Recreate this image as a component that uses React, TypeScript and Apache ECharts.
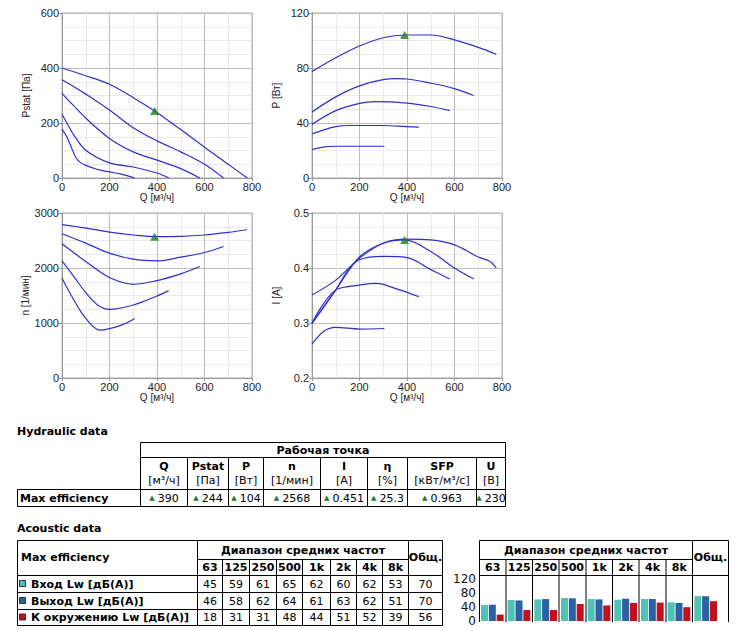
import React, { useEffect, useRef } from 'react';
import * as echarts from 'echarts';

// ---------------- Data ----------------
const pstatQ = [
  [0, 100, 200, 300, 390, 500, 600, 700, 780],
  [0, 50, 100, 200, 300, 400, 500, 600, 680],
  [0, 50, 100, 200, 300, 400, 500, 580],
  [0, 25, 50, 100, 200, 300, 400, 450],
  [0, 20, 40, 60, 80, 100, 150, 200, 250, 305],
];
const pstatVals = [
  [400, 372, 341, 292, 244, 176, 112, 50, 0],
  [357, 332, 305, 247, 183, 135, 95, 50, 0],
  [308, 262, 218, 144, 95, 65, 34, 0],
  [232, 193, 156, 101, 55, 40, 18, 0],
  [178, 150, 110, 72, 55, 46, 31, 22, 14, 0],
];

const powerQ = [
  [0, 100, 200, 300, 390, 500, 600, 700, 776],
  [0, 100, 200, 300, 350, 400, 500, 600, 680],
  [0, 100, 200, 270, 400, 500, 580],
  [0, 50, 100, 150, 300, 400, 450],
  [0, 50, 100, 200, 305],
];
const powerVals = [
  [77.5, 87.5, 96, 102, 104, 104, 100.5, 95, 90],
  [48, 59, 67, 71.5, 72.3, 72, 69, 65, 60],
  [39, 49, 54.3, 55.5, 54.5, 52, 49],
  [32, 35, 37.3, 38.2, 38.2, 37.3, 37],
  [20.7, 22.6, 23.1, 23.1, 23.1],
];

const speedQ = [
  [0, 100, 200, 300, 390, 500, 600, 700, 779],
  [0, 100, 200, 300, 400, 500, 600, 680],
  [0, 100, 200, 300, 400, 500, 580],
  [0, 50, 100, 150, 200, 300, 400, 449],
  [0, 50, 100, 160, 250, 306],
];
const speedVals = [
  [2787, 2726, 2653, 2600, 2570, 2575, 2600, 2647, 2696],
  [2623, 2452, 2270, 2160, 2130, 2197, 2282, 2391],
  [2440, 2118, 1826, 1704, 1771, 1892, 2026],
  [2130, 1844, 1552, 1327, 1247, 1327, 1491, 1588],
  [1813, 1418, 1083, 870, 961, 1083],
];

const currentQ = [
  [0, 100, 200, 300, 400, 500, 600, 700, 750, 776],
  [0, 100, 200, 300, 390, 500, 600, 681],
  [0, 100, 150, 200, 300, 400, 500, 580],
  [0, 50, 100, 150, 200, 270, 350, 449],
  [0, 50, 100, 200, 305],
];
const currentVals = [
  [0.351, 0.378, 0.418, 0.445, 0.4525, 0.451, 0.442, 0.42, 0.412, 0.4],
  [0.3, 0.36, 0.42, 0.445, 0.451, 0.43, 0.4, 0.38],
  [0.299, 0.36, 0.395, 0.415, 0.421, 0.419, 0.397, 0.38],
  [0.3, 0.336, 0.36, 0.366, 0.369, 0.372, 0.363, 0.348],
  [0.2615, 0.285, 0.292, 0.289, 0.29],
];

const opQ = 390;
const opPstat = 244;
const opPower = 104;
const opSpeed = 2568;
const opCurrent = 0.451;

const hydHeaders = ['Q', 'Pstat', 'P', 'n', 'I', 'η', 'SFP', 'U'];
const hydUnits = ['[м³/ч]', '[Па]', '[Вт]', '[1/мин]', '[А]', '[%]', '[кВт/м³/с]', '[В]'];
const hydValues = ['390', '244', '104', '2568', '0.451', '25.3', '0.963', '230'];

const freqLabels = ['63', '125', '250', '500', '1k', '2k', '4k', '8k'];
const totalLabel = 'Общ.';
const rowLabels = ['Вход Lw [дБ(А)]', 'Выход Lw [дБ(А)]', 'К окружению Lw [дБ(А)]'];
const inletLw = [45, 59, 61, 65, 62, 60, 62, 53];
const outletLw = [46, 58, 62, 64, 61, 63, 62, 51];
const ambientLw = [18, 31, 31, 48, 44, 51, 52, 39];
const inletTotal = 70;
const outletTotal = 70;
const ambientTotal = 56;

// ---------------- Styling ----------------
const AF = 'Liberation Sans, Arial, sans-serif';
const TF = 'DejaVu Sans, Verdana, sans-serif';
const CURVE = '#2f2fc8';
const MARK = '#1c7c1c';
const rowColors = ['#52c2b6', '#2b62a6', '#c0111c'];

const plotGrids = [
  { left: 62, top: 13, width: 190, height: 165 },
  { left: 312, top: 13, width: 190, height: 165 },
  { left: 62, top: 213, width: 190, height: 165 },
  { left: 312, top: 213, width: 190, height: 165 },
];
const yNames = ['Pstat [Па]', 'P [Вт]', 'n [1/мин]', 'I [A]'];
const yRanges = [
  { min: 0, max: 600, interval: 200 },
  { min: 0, max: 120, interval: 40 },
  { min: 0, max: 3000, interval: 1000 },
  { min: 0.2, max: 0.5, interval: 0.1 },
];
const curveSets = [
  [pstatQ, pstatVals],
  [powerQ, powerVals],
  [speedQ, speedVals],
  [currentQ, currentVals],
];
const opValues = [opPstat, opPower, opSpeed, opCurrent];

const ln = (x1: number, y1: number, x2: number, y2: number) => ({
  type: 'line',
  silent: true,
  shape: { x1, y1, x2, y2 },
  style: { stroke: '#000', lineWidth: 1 },
});
const tx = (x: number, y: number, t: string, bold = false, align = 'center', size = 11) => ({
  type: 'text',
  silent: true,
  x,
  y,
  style: {
    text: t,
    fill: '#000',
    fontFamily: TF,
    fontSize: size,
    fontWeight: bold ? 'bold' : 'normal',
    align,
    verticalAlign: 'middle',
  },
});

function buildGraphics() {
  const g: any[] = [];
  // ---- Hydraulic table ----
  g.push(tx(17, 431, 'Hydraulic data', true, 'left'));
  const HX = [140.5, 187.5, 228.5, 263.5, 320.5, 367.5, 407.5, 476.5, 505.5];
  const R = HX[HX.length - 1];
  g.push(ln(140.5, 442.5, R, 442.5));
  g.push(ln(140.5, 457.5, R, 457.5));
  g.push(ln(17.5, 489.5, R, 489.5));
  g.push(ln(17.5, 506.5, R, 506.5));
  g.push(ln(17.5, 489.5, 17.5, 506.5));
  g.push(ln(140.5, 442.5, 140.5, 506.5));
  g.push(ln(R, 442.5, R, 506.5));
  for (let i = 1; i < HX.length - 1; i++) g.push(ln(HX[i], 457.5, HX[i], 506.5));
  g.push(tx((140.5 + R) / 2, 450, 'Рабочая точка', true));
  hydHeaders.forEach((h, i) => {
    const cx = (HX[i] + HX[i + 1]) / 2;
    g.push(tx(cx, 466, h, true));
    g.push(tx(cx, 480, hydUnits[i]));
    g.push({
      type: 'text',
      silent: true,
      x: cx,
      y: 498,
      style: {
        text: `{t|▲}{v|${hydValues[i]}}`,
        align: 'center',
        verticalAlign: 'middle',
        rich: {
          t: { fontSize: 7, fill: MARK, fontFamily: TF, padding: [0, 3, 0, 0] },
          v: { fontSize: 11, fill: '#000', fontFamily: TF },
        },
      },
    });
  });
  g.push(tx(20, 498, 'Max efficiency', true, 'left'));

  // ---- Acoustic table ----
  g.push(tx(17, 528.5, 'Acoustic data', true, 'left'));
  const AX = [197.5, 222.5, 249.5, 276.5, 302.5, 330.5, 356.5, 382.5, 408.5];
  const AL = 17.5;
  const AR = 442.5;
  const AY = [575.5, 592.5, 609.5, 625.5];
  g.push(ln(AL, 540.5, AR, 540.5));
  g.push(ln(AX[0], 559.5, AX[8], 559.5));
  AY.forEach((y) => g.push(ln(AL, y, AR, y)));
  [AL, AX[0], AX[8], AR].forEach((x) => g.push(ln(x, 540.5, x, 625.5)));
  for (let i = 1; i < 8; i++) g.push(ln(AX[i], 559.5, AX[i], 625.5));
  g.push(tx(21, 557.5, 'Max efficiency', true, 'left'));
  g.push(tx((AX[0] + AX[8]) / 2, 550, 'Диапазон средних частот', true));
  g.push(tx((AX[8] + AR) / 2, 557, totalLabel, true));
  freqLabels.forEach((f, i) => g.push(tx((AX[i] + AX[i + 1]) / 2, 567.5, f, true)));
  const rows = [
    [inletLw, inletTotal],
    [outletLw, outletTotal],
    [ambientLw, ambientTotal],
  ] as const;
  rows.forEach(([vals, tot], r) => {
    const cy = (AY[r] + AY[r + 1]) / 2;
    g.push({
      type: 'rect',
      silent: true,
      shape: { x: 19.5, y: cy - 3.5, width: 6, height: 6 },
      style: { fill: rowColors[r], stroke: '#333', lineWidth: 1 },
    });
    g.push(tx(31, cy, rowLabels[r], true, 'left'));
    (vals as number[]).forEach((v, i) => g.push(tx((AX[i] + AX[i + 1]) / 2, cy, String(v))));
    g.push(tx((AX[8] + AR) / 2, cy, String(tot)));
  });

  // ---- Bar chart table ----
  const BX = [479.5, 506, 532.5, 559, 586, 612.5, 639, 666, 692.5];
  const BR = 728.5;
  g.push(ln(BX[0], 540.5, BR, 540.5));
  g.push(ln(BX[0], 559.5, BX[8], 559.5));
  g.push(ln(BX[0], 575.5, BR, 575.5));
  [BX[0], BX[8], BR].forEach((x) => g.push(ln(x, 540.5, x, 622)));
  for (let i = 1; i < 8; i++) g.push(ln(BX[i], 559.5, BX[i], 622));
  g.push(tx((BX[0] + BX[8]) / 2, 550, 'Диапазон средних частот', true));
  g.push(tx((BX[8] + BR) / 2, 557, totalLabel, true));
  freqLabels.forEach((f, i) => g.push(tx((BX[i] + BX[i + 1]) / 2, 567.5, f, true)));
  return g;
}

function buildOption() {
  const grid: any[] = plotGrids.map((p) => ({ ...p, show: true, borderColor: '#b0b0b0', borderWidth: 1, containLabel: false }));
  grid.push({ left: 479, top: 578.5, width: 240, height: 42.5, show: false });

  const xAxis: any[] = plotGrids.map((_, i) => ({
    gridIndex: i,
    type: 'value',
    min: 0,
    max: 800,
    interval: 200,
    name: 'Q [м³/ч]',
    nameLocation: 'middle',
    nameGap: 11,
    nameTextStyle: { fontSize: 10, fontFamily: AF, color: '#222' },
    axisLine: { show: true, onZero: false, lineStyle: { color: '#999' } },
    axisTick: { show: true, length: 3, lineStyle: { color: '#999' } },
    axisLabel: { fontSize: 11, fontFamily: AF, color: '#222', margin: 3 },
    splitLine: { show: true, lineStyle: { color: '#bcbcbc' } },
    minorTick: { show: false, splitNumber: 2 },
    minorSplitLine: { show: true, lineStyle: { color: '#e9e9e9' } },
  }));
  xAxis.push({
    gridIndex: 4,
    type: 'category',
    data: [...freqLabels, totalLabel],
    show: false,
  });

  const yAxis: any[] = plotGrids.map((_, i) => ({
    gridIndex: i,
    type: 'value',
    ...yRanges[i],
    name: yNames[i],
    nameLocation: 'middle',
    nameGap: 31,
    nameTextStyle: { fontSize: 10, fontFamily: AF, color: '#222' },
    axisLine: { show: true, onZero: false, lineStyle: { color: '#999' } },
    axisTick: { show: true, length: 3, lineStyle: { color: '#999' } },
    axisLabel: {
      fontSize: 11,
      fontFamily: AF,
      color: '#222',
      margin: 3,
      formatter: (v: number) => (i === 3 ? v.toFixed(1) : String(v)),
    },
    splitLine: { show: true, lineStyle: { color: '#bcbcbc' } },
    minorTick: { show: false, splitNumber: 4 },
    minorSplitLine: { show: true, lineStyle: { color: '#e9e9e9' } },
  }));
  yAxis.push({
    gridIndex: 4,
    type: 'value',
    min: 0,
    max: 120,
    interval: 40,
    axisLine: { show: false },
    axisTick: { show: false },
    splitLine: { show: false },
    axisLabel: { fontSize: 12, fontFamily: TF, color: '#111', margin: 3 },
  });

  const series: any[] = [];
  curveSets.forEach(([qs, vs], p) => {
    qs.forEach((q, c) => {
      series.push({
        type: 'line',
        xAxisIndex: p,
        yAxisIndex: p,
        data: q.map((x, k) => [x, vs[c][k]]),
        smooth: 0.35,
        showSymbol: false,
        symbol: 'none',
        lineStyle: { color: CURVE, width: 1.2 },
        silent: true,
      });
    });
    series.push({
      type: 'scatter',
      xAxisIndex: p,
      yAxisIndex: p,
      data: [[opQ, opValues[p]]],
      symbol: 'triangle',
      symbolSize: [9, 8],
      itemStyle: { color: MARK },
      z: 5,
      silent: true,
    });
  });
  const barSets = [
    [...inletLw, inletTotal],
    [...outletLw, outletTotal],
    [...ambientLw, ambientTotal],
  ];
  barSets.forEach((vals, r) => {
    series.push({
      type: 'bar',
      xAxisIndex: 4,
      yAxisIndex: 4,
      data: vals,
      barWidth: 7,
      barGap: '12%',
      itemStyle: { color: rowColors[r] },
      silent: true,
    });
  });

  return {
    animation: false,
    backgroundColor: '#fff',
    grid,
    xAxis,
    yAxis,
    series,
    graphic: buildGraphics(),
  };
}

export default function App() {
  const ref = useRef<HTMLDivElement>(null);
  useEffect(() => {
    if (!ref.current) return;
    const chart = echarts.init(ref.current, undefined, { renderer: 'svg' });
    chart.setOption(buildOption() as any);
    return () => chart.dispose();
  }, []);
  return (
    <div
      ref={ref}
      style={{ position: 'absolute', left: 0, top: 0, width: 736, height: 631, background: '#fff' }}
    />
  );
}
